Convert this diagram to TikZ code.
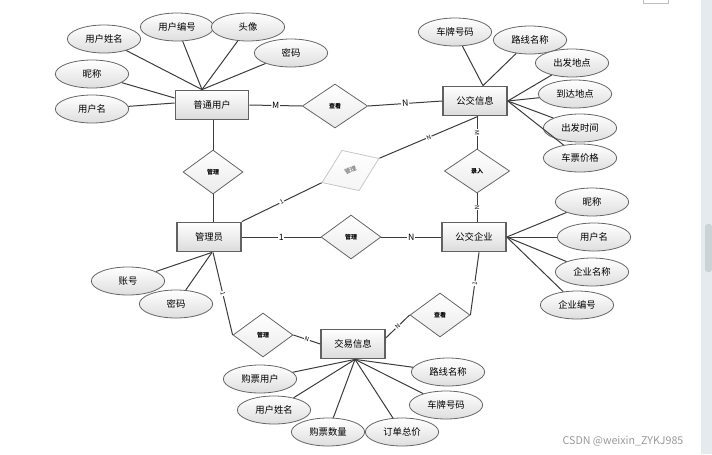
\documentclass[tikz,border=0pt]{standalone}
\usepackage{fontspec}
\setmainfont{Noto Sans CJK SC}
\usepackage{xcolor}
\usepackage{tikz}
\usetikzlibrary{shapes,positioning,calc}

\definecolor{linegray}{HTML}{3C3C3C}
\definecolor{barbg}{HTML}{E4EAED}
\definecolor{barthumb}{HTML}{CCD3D7}

\tikzset{
  entity/.style={draw=black!62, line width=1.1pt, top color=white, bottom color=black!14,
    minimum width=48pt, minimum height=22pt, inner sep=0pt, font=\fontsize{7}{8}\selectfont},
  attr/.style={ellipse, draw=black!60, line width=0.6pt, top color=white, bottom color=black!13,
    minimum width=55pt, minimum height=21pt, inner sep=0pt, font=\fontsize{7}{8}\selectfont},
  rel/.style={diamond, draw=black!60, line width=0.6pt, top color=white, bottom color=black!8,
    minimum width=45pt, minimum height=33pt, inner sep=0pt, font=\fontsize{4.5}{5}\selectfont\bfseries},
  link/.style={draw=linegray, line width=0.75pt},
  card/.style={fill=white, inner sep=0.6pt, font=\fontsize{6.5}{7}\selectfont, sloped},
  cardsm/.style={card, font=\fontsize{4.5}{5}\selectfont},
}

\begin{document}
\begin{tikzpicture}[x=0.75pt, y=-0.75pt]
    \path [use as bounding box] (0, 0) rectangle (712, 454);

    % Scroll bar
    \fill [barbg] (701, 0) rectangle (712, 454);
    \fill [barthumb, rounded corners=2pt] (705, 224) rectangle (712, 272);
    \draw [black!25] (643, 0) -- (643, 3) -- (668, 3) -- (668, 0);

    % Entities
    \node [entity, minimum width=55pt] (pu) at (212, 105) {普通用户};
    \node [entity] (gx) at (475, 101) {公交信息};
    \node [entity] (gly) at (209, 237) {管理员};
    \node [entity] (gq) at (474, 237) {公交企业};
    \node [entity] (jy) at (353, 344) {交易信息};

    % Relations
    \node [rel, minimum width=49pt] (ck1) at (335, 106) {查看};
    \node [rel] (gl1) at (213, 172) {管理};
    \node [rel, minimum width=49pt] (lr) at (477, 171) {录入};
    \node [rel, rotate=23, minimum width=46.5pt, draw=black!22, bottom color=black!4, text=black!45] (glx) at (350.5, 170.5) {管理};
    \node [rel] (gl2) at (351, 237) {管理};
    \node [rel] (gl3) at (263, 335) {管理};
    \node [rel] (ck2) at (440, 315) {查看};

    % Attributes of 普通用户
    \node [attr] (puxm) at (104, 39) {用户姓名};
    \node [attr] (pubh) at (177, 27) {用户编号};
    \node [attr] (putx) at (248, 27) {头像};
    \node [attr] (pumm) at (291, 53) {密码};
    \node [attr] (punc) at (92, 74) {昵称};
    \node [attr] (puyh) at (92, 109) {用户名};

    % Attributes of 公交信息
    \node [attr] (gxcp) at (455, 32) {车牌号码};
    \node [attr] (gxlx) at (530, 40) {路线名称};
    \node [attr] (gxcf) at (572, 63) {出发地点};
    \node [attr] (gxdd) at (575, 94) {到达地点};
    \node [attr] (gxsj) at (580, 128) {出发时间};
    \node [attr] (gxpj) at (580, 158) {车票价格};

    % Attributes of 公交企业
    \node [attr] (gqnc) at (592, 202) {昵称};
    \node [attr] (gqyh) at (594, 237) {用户名};
    \node [attr] (gqmc) at (592, 272) {企业名称};
    \node [attr] (gqbh) at (577, 305) {企业编号};

    % Attributes of 管理员
    \node [attr] (glzh) at (128, 281) {账号};
    \node [attr] (glmm) at (176, 304) {密码};

    % Attributes of 交易信息
    \node [attr] (jyyh) at (260, 379) {购票用户};
    \node [attr] (jyxm) at (274, 410) {用户姓名};
    \node [attr] (jysl) at (328, 432) {购票数量};
    \node [attr] (jyzj) at (402, 432) {订单总价};
    \node [attr] (jycp) at (446, 405) {车牌号码};
    \node [attr] (jylx) at (448, 372) {路线名称};

    % Attribute links
    \coordinate (putop) at ($(pu.north)+(-10, 0)$);
    \foreach \a in {puxm, pubh, putx, pumm}
        \draw [link] (putop) -- (\a);
    \draw [link] ($(pu.west)+(0, -7)$) -- (punc);
    \draw [link] ($(pu.west)+(0, -2)$) -- (puyh);
    \coordinate (gxtop) at ($(gx.north)+(8, 0)$);
    \draw [link] (gxtop) -- (gxcp);
    \draw [link] (gxtop) -- (gxlx);
    \foreach \a in {gxcf, gxdd, gxsj, gxpj}
        \draw [link] (gx.east) -- (\a);
    \foreach \a in {gqnc, gqyh, gqmc, gqbh}
        \draw [link] (gq.east) -- (\a);
    \coordinate (glbot) at ($(gly.south)+(3, 0)$);
    \draw [link] (glbot) -- (glzh);
    \draw [link] (glbot) -- (glmm);
    \coordinate (jybot) at ($(jy.south)+(2, 0)$);
    \foreach \a in {jyyh, jyxm, jysl, jyzj, jycp, jylx}
        \draw [link] (jybot) -- (\a);

    % Relation links
    \draw [link] (pu.east) -- (ck1.west) node [card, midway] {M};
    \draw [link] (ck1.east) -- (gx.west) node [card, midway] {N};
    \draw [link] (pu.south -| gl1.north) -- (gl1.north);
    \draw [link] (gl1.south) -- (gl1.south |- gly.north);
    \draw [link] (gly.north east) -- (glx.west) node [cardsm, midway] {1};
    \draw [link] (glx.east) -- ($(gx.south)+(3, 0)$) node [cardsm, midway] {N};
    \draw [link] (gx.south -| lr.north) -- (lr.north) node [cardsm, midway] {M};
    \draw [link] (lr.south) -- (lr.south |- gq.north) node [cardsm, midway] {N};
    \draw [link] (gly.east) -- (gl2.west) node [card, midway] {1};
    \draw [link] (gl2.east) -- (gq.west) node [card, midway] {N};
    \draw [link] ($(gly.south)+(4, 0)$) -- (gl3.west) node [cardsm, midway] {1};
    \draw [link] (gl3.east) -- (jy.west) node [cardsm, midway] {N};
    \draw [link] ($(jy.east)+(0, -6)$) -- (ck2.west) node [cardsm, midway] {N};
    \draw [link] (ck2.east) -- ($(gq.south)+(5, 0)$) node [cardsm, midway] {1};

    % Watermark
    \node [text=black!40, font=\fontsize{8}{9}\selectfont] (mark) at (623, 441) {CSDN @weixin\_ZYKJ985};
\end{tikzpicture}
\end{document}
